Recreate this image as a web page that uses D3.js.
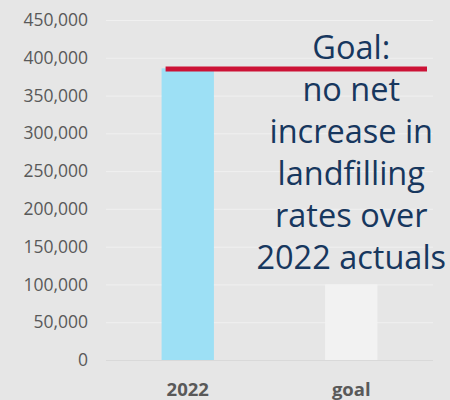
<!DOCTYPE html>
<html>
<head>
<meta charset="utf-8">
<script src="https://cdn.jsdelivr.net/npm/d3@7"></script>
<style>
  html, body { margin: 0; padding: 0; background: #e6e6e6; }
  svg { display: block; font-family: "Open Sans", "Noto Sans", sans-serif; }
</style>
</head>
<body>
<div id="chart"></div>
<script>
// chart data
const categories = ['2022', 'goal'];
const barValues = [386000, 100000];
const barColors = ['#9de0f5', '#f2f2f2'];
const goalLineValue = 385000;
const yTicks = [0, 50000, 100000, 150000, 200000, 250000, 300000, 350000, 400000, 450000];
const goalText = ['Goal:', 'no net', 'increase in', 'landfilling', 'rates over', '2022 actuals'];

const chartConfig = {
    WIDTH: 450,
    HEIGHT: 400,
    LEFT: 106,
    RIGHT: 433,
    TOP: 20,
    BOTTOM: 360,
    FONT: '"Open Sans", "Noto Sans", sans-serif',
};

const svg = d3.select('#chart')
    .append('svg')
    .attr('width', chartConfig.WIDTH)
    .attr('height', chartConfig.HEIGHT);

svg.append('rect')
    .attr('width', chartConfig.WIDTH)
    .attr('height', chartConfig.HEIGHT)
    .attr('fill', '#e6e6e6');

const x = d3.scaleBand()
    .domain(categories)
    .range([chartConfig.LEFT, chartConfig.RIGHT])
    .paddingInner(0.68)
    .paddingOuter(0.34);

const y = d3.scaleLinear()
    .domain([0, 450000])
    .range([chartConfig.BOTTOM, chartConfig.TOP]);

// gridlines
svg.append('g')
    .selectAll('line')
    .data(yTicks.filter(d => d > 0))
    .join('line')
    .attr('x1', chartConfig.LEFT)
    .attr('x2', chartConfig.RIGHT)
    .attr('y1', d => y(d) + 0.5)
    .attr('y2', d => y(d) + 0.5)
    .attr('stroke', '#f0f0f0')
    .attr('stroke-width', 1);

// y axis labels (no axis line)
const yAxis = svg.append('g')
    .attr('transform', `translate(${chartConfig.LEFT - 18},0)`)
    .call(d3.axisLeft(y).tickValues(yTicks).tickFormat(d3.format(',')).tickSize(0).tickPadding(0));
yAxis.select('.domain').remove();
yAxis.selectAll('text')
    .attr('fill', '#595959')
    .style('font-family', chartConfig.FONT)
    .style('font-size', '17.5px');

// bars
svg.append('g')
    .selectAll('rect')
    .data(categories)
    .join('rect')
    .attr('x', d => x(d))
    .attr('y', (d, i) => y(barValues[i]))
    .attr('width', x.bandwidth())
    .attr('height', (d, i) => y(0) - y(barValues[i]))
    .attr('fill', (d, i) => barColors[i]);

// baseline
svg.append('line')
    .attr('x1', chartConfig.LEFT)
    .attr('x2', chartConfig.RIGHT)
    .attr('y1', y(0) + 0.5)
    .attr('y2', y(0) + 0.5)
    .attr('stroke', '#d9d9d9')
    .attr('stroke-width', 1);

// x axis labels
const xAxis = svg.append('g')
    .attr('transform', `translate(0,${y(0)})`)
    .call(d3.axisBottom(x).tickSize(0).tickPadding(23));
xAxis.select('.domain').remove();
xAxis.selectAll('text')
    .attr('fill', '#595959')
    .style('font-family', chartConfig.FONT)
    .style('font-size', '18.5px')
    .style('font-weight', 'bold');

// goal line
svg.append('line')
    .attr('x1', x('2022') + 4)
    .attr('x2', chartConfig.RIGHT - 6)
    .attr('y1', y(goalLineValue))
    .attr('y2', y(goalLineValue))
    .attr('stroke', '#cc1236')
    .attr('stroke-width', 5);

// goal annotation
svg.append('text')
    .attr('text-anchor', 'middle')
    .attr('fill', '#17375e')
    .style('font-family', chartConfig.FONT)
    .style('font-size', '32.5px')
    .selectAll('tspan')
    .data(goalText)
    .join('tspan')
    .attr('x', x('goal') + x.bandwidth() / 2)
    .attr('y', (d, i) => 59 + i * 42)
    .text(d => d);
</script>
</body>
</html>
